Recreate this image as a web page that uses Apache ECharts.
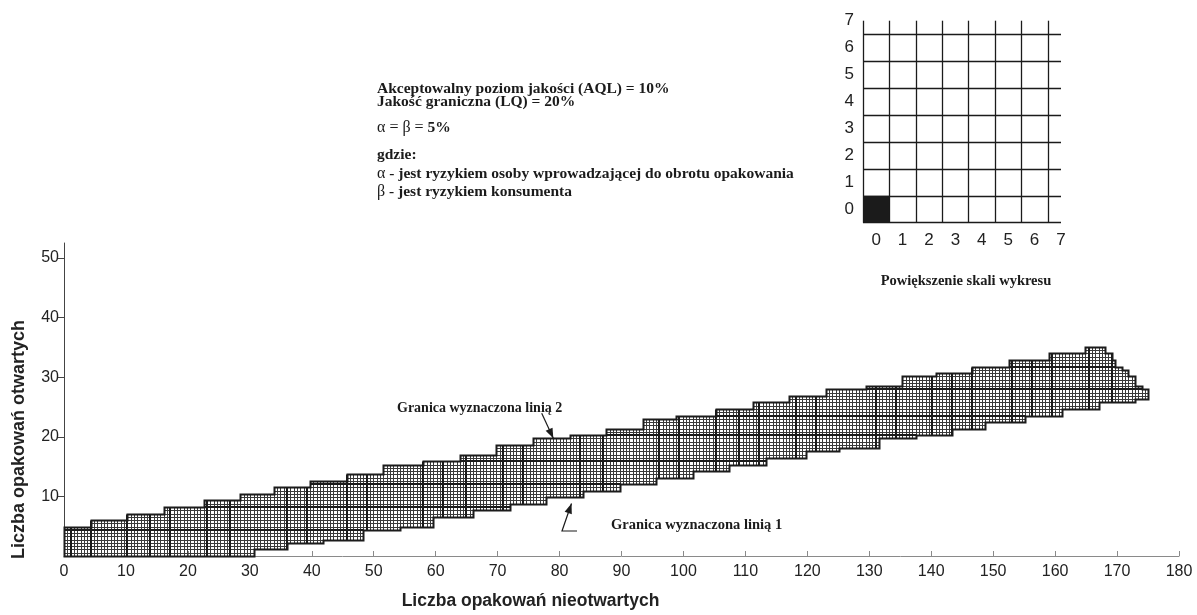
<!DOCTYPE html>
<html>
<head>
<meta charset="utf-8">
<script src="https://cdn.jsdelivr.net/npm/echarts@6/dist/echarts.min.js"></script>
<style>
html,body{margin:0;padding:0;background:#ffffff;}
#chart{width:1197px;height:615px;}
</style>
</head>
<body>
<div id="chart"></div>
<script>
// ---------------- data (axis units) ----------------
// upper boundary (line 2): [x where the step starts, top of the band]
const upperSteps = [
  [0,4.9],[4.5,6.2],[10.3,7.1],[16.0,8.1],[22.3,9.5],[28.2,10.3],[34.0,11.4],[40.0,12.7],
  [45.9,13.7],[51.6,15.2],[57.9,16.0],[63.9,17.1],[69.7,18.4],[75.6,19.7],[81.5,20.4],
  [87.4,21.4],[93.4,22.8],[99.0,23.8],[105.2,24.5],[111.3,25.7],[117.3,27.0],[123.2,27.8],
  [129.2,28.7],[135.2,30.0],[140.8,30.9],[146.8,31.9],[152.7,32.9],[158.7,34.1],[164.8,35.2],
  [167.9,34.1],[169.0,33.1],[169.8,31.9],[170.8,31.0],[171.8,29.9],[173.1,28.7],[173.9,27.8]
];
// lower boundary (line 1): [x where the step starts, bottom of the band]
const lowerSteps = [
  [0,0],[30.5,1.0],[36.1,2.0],[42.1,3.0],[48.1,4.2],[54.0,5.2],[59.7,6.5],[66.1,7.9],
  [71.8,9.0],[77.7,10.1],[83.7,10.9],[89.5,12.3],[95.5,13.0],[101.5,14.0],[107.3,15.1],
  [113.5,16.2],[119.5,17.3],[125.3,18.1],[131.3,19.5],[137.3,20.3],[143.2,21.4],[149.0,22.5],
  [155.0,23.5],[161.1,24.6],[167.1,25.8],[173.1,26.5]
];
const bandEnd = 175;
// heavy grid lines inside the band
const majorX = [1.3,4.5,10.4,13.9,17.3,23.2,26.6,36.1,39.3,45.5,48.7,57.9,61.3,64.8,70.8,74.0,
  83.1,86.9,96.0,99.5,105.4,108.9,112.1,118.1,121.5,131.0,134.2,140.2,143.5,146.8,152.9,
  156.2,159.6,165.5,169.0];
const majorY = [4.5,8,12,16,20.3,23.7,27.7,31.8];
const yTickValues = [10,20,30,40,50];
// inset ("Powiększenie skali wykresu")
const insetTicks = [0,1,2,3,4,5,6,7];
const insetFilled = [[0,0]];

// ---------------- styles / sizes ----------------
const CX = 0.537, CY = 0.548;   // size of one small cell, in axis units
const SANS = '"Liberation Sans", Arial, Helvetica, sans-serif';
const SERIF = '"Liberation Serif", "Times New Roman", Times, serif';
const INK = '#1b1b1b';
const THIN = '#3a3a3a';

// ---------------- build the band from the step data ----------------
const nCols = Math.round(bandEnd / CX);
function stepRows(steps, col) {
  let v = steps[0][1];
  for (const s of steps) if (Math.round(s[0] / CX) <= col) v = s[1];
  return Math.round(v / CY);
}
const cols = [];
for (let i = 0; i < nCols; i++) cols.push({ b: stepRows(lowerSteps, i), t: stepRows(upperSteps, i) });
const cellData = cols.map((c, i) => [i * CX, (i + 1) * CX, c.b * CY, c.t * CY]);

const hData = [];
majorY.forEach(y => {
  const r = Math.round(y / CY);
  let lo = -1, hi = -1;
  cols.forEach((c, i) => { if (c.b < r && r < c.t) { if (lo < 0) lo = i; hi = i; } });
  if (lo >= 0) hData.push([lo * CX, (hi + 1) * CX, r * CY]);
});
const vData = [];
majorX.forEach(x => {
  const k = Math.round(x / CX);
  const nb = [cols[k - 1], cols[k]].filter(Boolean);
  vData.push([k * CX, Math.min(...nb.map(c => c.b)) * CY, Math.max(...nb.map(c => c.t)) * CY]);
});
const outline = [];
outline.push([0, cols[0].b * CY]);
cols.forEach((c, i) => { outline.push([i * CX, c.t * CY]); outline.push([(i + 1) * CX, c.t * CY]); });
for (let i = nCols - 1; i >= 0; i--) { outline.push([(i + 1) * CX, cols[i].b * CY]); outline.push([i * CX, cols[i].b * CY]); }

// ---------------- helpers ----------------
const h = v => Math.round(v) + 0.5;   // crisp 1px line
const w = v => Math.round(v);         // crisp 2px line
function arrowHead(tip, from, len, half) {
  const dx = tip[0] - from[0], dy = tip[1] - from[1];
  const L = Math.hypot(dx, dy), ux = dx / L, uy = dy / L;
  const bx = tip[0] - ux * len, by = tip[1] - uy * len;
  return [tip, [bx - uy * half, by + ux * half], [bx + uy * half, by - ux * half]];
}
const a2from = [541.7, 413.3], a2to = [553.3, 438.3];
const a1from = [562, 531], a1to = [571.5, 503.5];

const serifBold = sz => 'bold ' + sz + 'px ' + SERIF;
function txt(x, y, text, size) {
  return { type: 'text', x: x, y: y, style: { text: text, font: serifBold(size || 15.5), fill: INK, verticalAlign: 'middle', align: 'left' } };
}
const richStyles = {
  g: { fontFamily: SERIF, fontSize: 16, fontWeight: 'normal', fill: INK },
  b: { fontFamily: SERIF, fontSize: 15.5, fontWeight: 'bold', fill: INK }
};
const TX = 377;

// ---------------- chart ----------------
const chart = echarts.init(document.getElementById('chart'), null, { renderer: 'canvas' });

const insetAxis = {
  gridIndex: 1, type: 'value', min: 0, max: 7.5, interval: 1,
  axisLine: { show: false }, axisTick: { show: false },
  splitLine: { show: true, showMinLine: true, showMaxLine: false, lineStyle: { color: INK, width: 1.3 } },
  axisLabel: { customValues: insetTicks.map(v => v + 0.5), formatter: v => String(Math.round(v - 0.5)), color: '#222', fontSize: 17, fontFamily: SANS, margin: 9 }
};

const option = {
  animation: false,
  backgroundColor: '#ffffff',
  grid: [
    { left: 64, right: 18, top: 243, bottom: 56 },
    { left: 863, top: 20.7, width: 198, height: 202 }
  ],
  xAxis: [
    {
      gridIndex: 0, type: 'value', min: 0, max: 180, interval: 10,
      axisLine: { lineStyle: { color: '#8a8a8a', width: 1 } },
      axisTick: { inside: true, length: 5, lineStyle: { color: '#8a8a8a' } },
      axisLabel: { color: '#222', fontSize: 16, fontFamily: SANS, margin: 8 },
      splitLine: { show: false },
      name: 'Liczba opakowań nieotwartych', nameLocation: 'middle', nameGap: 36,
      nameTextStyle: { color: '#222', fontSize: 17.5, fontWeight: 'bold', fontFamily: SANS, padding: [0, 182, 0, 0] }
    },
    insetAxis
  ],
  yAxis: [
    {
      gridIndex: 0, type: 'value', min: 0, max: 52.5, interval: 10,
      axisLine: { show: true, lineStyle: { color: '#444', width: 1 } },
      axisTick: { show: true, length: 6, customValues: yTickValues, lineStyle: { color: '#444' } },
      axisLabel: { customValues: yTickValues, color: '#222', fontSize: 16, fontFamily: SANS, margin: 5 },
      splitLine: { show: false },
      name: 'Liczba opakowań otwartych', nameLocation: 'middle', nameGap: 36,
      nameTextStyle: { color: '#222', fontSize: 18, fontWeight: 'bold', fontFamily: SANS, padding: [0, 80, 0, 0] }
    },
    Object.assign({}, insetAxis)
  ],
  series: [
    {
      name: 'cells', type: 'custom', xAxisIndex: 0, yAxisIndex: 0, z: 2,
      data: cellData,
      renderItem: function (params, api) {
        const x0 = api.value(0), x1 = api.value(1), b = api.value(2), t = api.value(3);
        const n = Math.round((t - b) / CY);
        const pl = api.coord([x0, b]), pr = api.coord([x1, t]);
        const lx = h(pl[0]), rx = h(pr[0]), by = h(pl[1]), ty = h(pr[1]);
        const st = { stroke: THIN, lineWidth: 1 };
        const children = [
          { type: 'line', shape: { x1: lx, y1: by, x2: lx, y2: ty }, style: st },
          { type: 'line', shape: { x1: rx, y1: by, x2: rx, y2: ty }, style: st }
        ];
        for (let j = 0; j <= n; j++) {
          const py = h(api.coord([x0, b + j * CY])[1]);
          children.push({ type: 'line', shape: { x1: lx, y1: py, x2: rx, y2: py }, style: st });
        }
        return { type: 'group', children: children };
      }
    },
    {
      name: 'heavy horizontal', type: 'custom', xAxisIndex: 0, yAxisIndex: 0, z: 3,
      data: hData,
      renderItem: function (params, api) {
        const p0 = api.coord([api.value(0), api.value(2)]), p1 = api.coord([api.value(1), api.value(2)]);
        return { type: 'line', shape: { x1: h(p0[0]), y1: w(p0[1]), x2: h(p1[0]), y2: w(p1[1]) }, style: { stroke: INK, lineWidth: 2 } };
      }
    },
    {
      name: 'heavy vertical', type: 'custom', xAxisIndex: 0, yAxisIndex: 0, z: 3,
      data: vData,
      renderItem: function (params, api) {
        const p0 = api.coord([api.value(0), api.value(1)]), p1 = api.coord([api.value(0), api.value(2)]);
        return { type: 'line', shape: { x1: w(p0[0]), y1: h(p0[1]), x2: w(p1[0]), y2: h(p1[1]) }, style: { stroke: INK, lineWidth: 2 } };
      }
    },
    {
      name: 'outline', type: 'custom', xAxisIndex: 0, yAxisIndex: 0, z: 4,
      data: [[0, 0]],
      renderItem: function (params, api) {
        return { type: 'polygon', shape: { points: outline.map(p => { const q = api.coord(p); return [h(q[0]), h(q[1])]; }) }, style: { fill: 'none', stroke: INK, lineWidth: 2 } };
      }
    },
    {
      name: 'inset cell', type: 'custom', xAxisIndex: 1, yAxisIndex: 1, z: 4,
      data: insetFilled,
      renderItem: function (params, api) {
        const p0 = api.coord([api.value(0), api.value(1) + 1]), p1 = api.coord([api.value(0) + 1, api.value(1)]);
        return { type: 'rect', shape: { x: p0[0], y: p0[1], width: p1[0] - p0[0], height: p1[1] - p0[1] }, style: { fill: INK } };
      }
    }
  ],
  graphic: [
    txt(TX, 89, 'Akceptowalny poziom jakości (AQL) = 10%'),
    txt(TX, 101.5, 'Jakość graniczna (LQ) = 20%'),
    { type: 'text', x: TX, y: 128, style: { text: '{g|α = β = }{b|5%}', rich: richStyles, verticalAlign: 'middle', align: 'left' } },
    txt(TX, 154.5, 'gdzie:'),
    { type: 'text', x: TX, y: 173.5, style: { text: '{g|α}{b| - jest ryzykiem osoby wprowadzającej do obrotu opakowania}', rich: richStyles, verticalAlign: 'middle', align: 'left' } },
    { type: 'text', x: TX, y: 192, style: { text: '{g|β}{b| - jest ryzykiem konsumenta}', rich: richStyles, verticalAlign: 'middle', align: 'left' } },
    { type: 'text', x: 966, y: 281, style: { text: 'Powiększenie skali wykresu', font: serifBold(14.5), fill: INK, align: 'center', verticalAlign: 'middle' } },
    txt(397, 408, 'Granica wyznaczona linią 2', 14),
    txt(611, 525, 'Granica wyznaczona linią 1', 14.5),
    { type: 'line', shape: { x1: a2from[0], y1: a2from[1], x2: a2to[0], y2: a2to[1] }, style: { stroke: INK, lineWidth: 1.2 } },
    { type: 'polygon', shape: { points: arrowHead(a2to, a2from, 10, 3.8) }, style: { fill: INK } },
    { type: 'polyline', shape: { points: [[577, a1from[1]], a1from, a1to] }, style: { stroke: INK, lineWidth: 1.2, fill: 'none' } },
    { type: 'polygon', shape: { points: arrowHead(a1to, a1from, 10, 3.8) }, style: { fill: INK } }
  ]
};
chart.setOption(option);
</script>
</body>
</html>
